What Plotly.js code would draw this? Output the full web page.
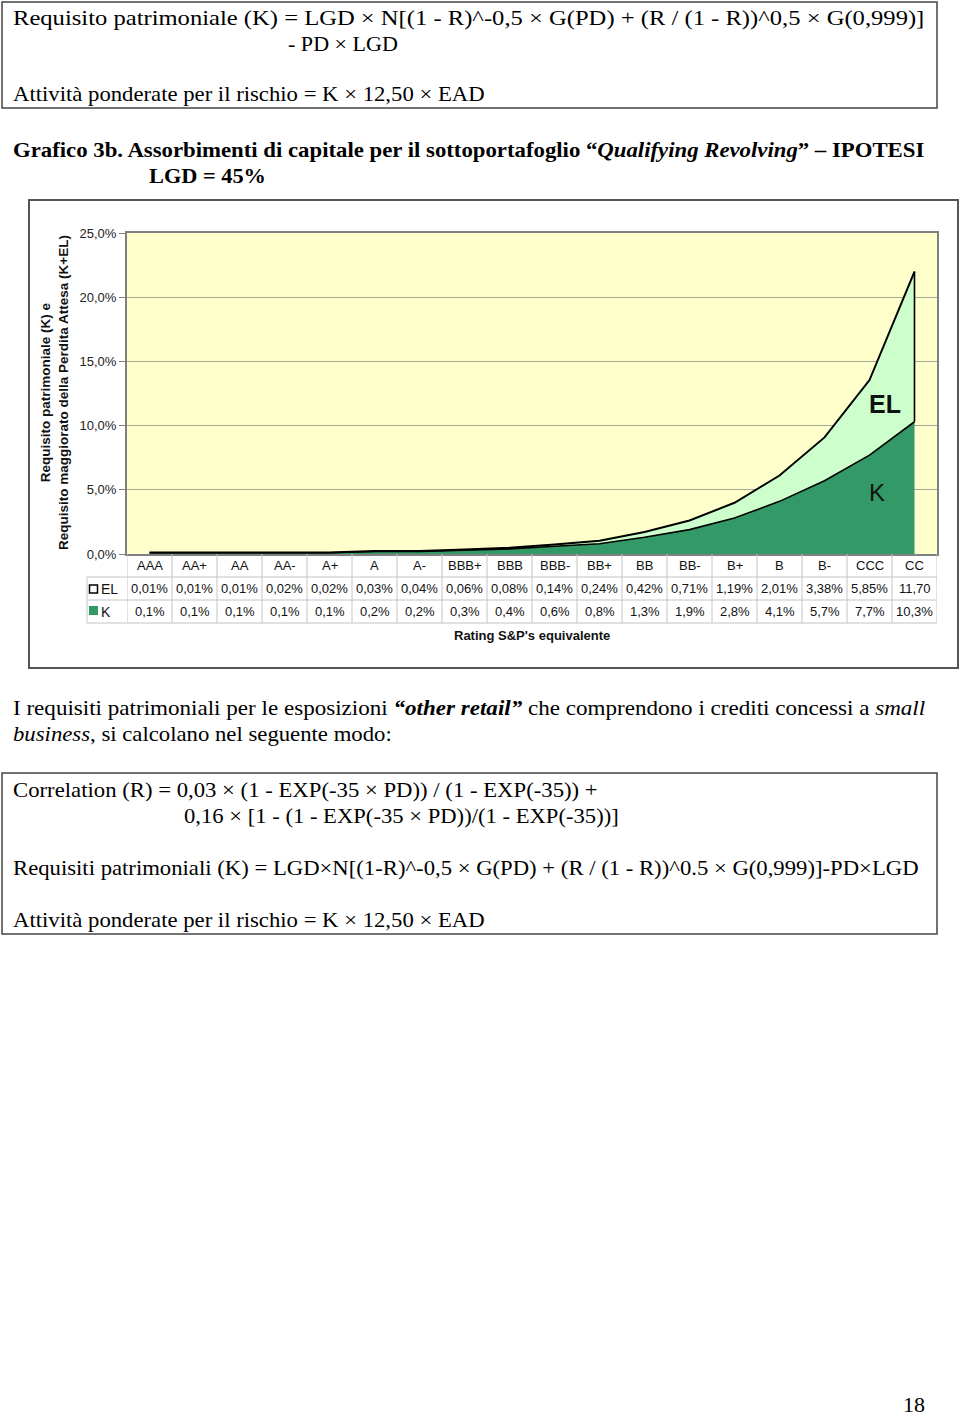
<!DOCTYPE html>
<html><head><meta charset="utf-8">
<script src="https://cdn.plot.ly/plotly-3.0.1.min.js"></script>
<style>
body{margin:0;background:#fff;width:960px;height:1418px;overflow:hidden;position:relative}
#chart{position:absolute;left:0;top:0;width:960px;height:1418px}
#doc{position:absolute;left:0;top:0;pointer-events:none}
#doc text{font-family:"Liberation Serif","Times New Roman",serif;font-size:21px;fill:#000}
</style></head><body>
<div id="chart"></div>
<svg id="doc" width="960" height="1418" xmlns="http://www.w3.org/2000/svg">
  <rect x="2" y="2" width="935" height="106" fill="none" stroke="#444" stroke-width="1.5"/>
  <text x="13" y="25" data-x1="925">Requisito patrimoniale (K) = LGD × N[(1 - R)^-0,5 × G(PD) + (R / (1 - R))^0,5 × G(0,999)]</text>
  <text x="288" y="51" data-x1="398">- PD × LGD</text>
  <text x="13" y="101" data-x1="485">Attività ponderate per il rischio = K × 12,50 × EAD</text>

  <text x="13" y="157" data-x1="925" font-weight="bold">Grafico 3b. Assorbimenti di capitale per il sottoportafoglio “<tspan font-style="italic">Qualifying Revolving</tspan>” – IPOTESI</text>
  <text x="149" y="183" data-x1="266" font-weight="bold">LGD = 45%</text>

  <text x="13" y="715" data-x1="926">I requisiti patrimoniali per le esposizioni <tspan font-weight="bold" font-style="italic">“other retail”</tspan> che comprendono i crediti concessi a <tspan font-style="italic">small</tspan></text>
  <text x="13" y="741" data-x1="392"><tspan font-style="italic">business</tspan>, si calcolano nel seguente modo:</text>

  <rect x="2" y="773" width="935" height="161" fill="none" stroke="#444" stroke-width="1.5"/>
  <text x="13" y="797" data-x1="598">Correlation (R) = 0,03 × (1 - EXP(-35 × PD)) / (1 - EXP(-35)) +</text>
  <text x="184" y="823" data-x1="619">0,16 × [1 - (1 - EXP(-35 × PD))/(1 - EXP(-35))]</text>
  <text x="13" y="875" data-x1="919">Requisiti patrimoniali (K) = LGD×N[(1-R)^-0,5 × G(PD) + (R / (1 - R))^0.5 × G(0,999)]-PD×LGD</text>
  <text x="13" y="927" data-x1="485">Attività ponderate per il rischio = K × 12,50 × EAD</text>

  <text x="903" y="1412" data-x1="925">18</text>
</svg>
<script>
// ---- data ----
const categories = ['AAA','AA+','AA','AA-','A+','A','A-','BBB+','BBB','BBB-','BB+','BB','BB-','B+','B','B-','CCC','CC'];
const elValues = [0.01,0.01,0.01,0.02,0.02,0.03,0.04,0.06,0.08,0.14,0.24,0.42,0.71,1.19,2.01,3.38,5.85,11.70];
const kValues  = [0.1,0.1,0.1,0.1,0.1,0.2,0.2,0.3,0.4,0.6,0.8,1.3,1.9,2.8,4.1,5.7,7.7,10.3];
const elLabels = ['0,01%','0,01%','0,01%','0,02%','0,02%','0,03%','0,04%','0,06%','0,08%','0,14%','0,24%','0,42%','0,71%','1,19%','2,01%','3,38%','5,85%','11,70'];
const kLabels  = ['0,1%','0,1%','0,1%','0,1%','0,1%','0,2%','0,2%','0,3%','0,4%','0,6%','0,8%','1,3%','1,9%','2,8%','4,1%','5,7%','7,7%','10,3%'];
const yTickVals = [0,5,10,15,20,25];
const yTickText = ['0,0%','5,0%','10,0%','15,0%','20,0%','25,0%'];
const seriesNames = ['K','EL'];
const axisTitle = '<b>Requisito patrimoniale (K) e<br>Requisito maggiorato della Perdita Attesa (K+EL)</b>';
const xTitle = "<b>Rating S&P's equivalente</b>";

// ---- layout helpers (page pixels -> paper) ----
const PL=127, PR=937, PT=233, PB=554;
const q = px => (px-PL)/(PR-PL);
const p = py => (PB-py)/(PB-PT);
const SANS = 'Liberation Sans, Arial, sans-serif';
const GREEN = '#339966', LIGHT = '#CCFFCC';

const last = categories.length-1;
const traces = [
  {x:categories, y:kValues, name:seriesNames[0], type:'scatter', mode:'lines', stackgroup:'s',
   fillcolor:GREEN, line:{color:'#000',width:1.6}, hoverinfo:'skip'},
  {x:categories, y:elValues, name:seriesNames[1], type:'scatter', mode:'lines', stackgroup:'s',
   fillcolor:LIGHT, line:{color:'#000',width:2}, hoverinfo:'skip'},
  {x:[categories[last],categories[last]], y:[kValues[last], kValues[last]+elValues[last]],
   type:'scatter', mode:'lines', line:{color:'#000',width:1.6}, hoverinfo:'skip'}
];

const grid = '#C4C4C4';
const shapes = [];
// chart frame
shapes.push({type:'rect', xref:'paper', yref:'paper', x0:q(29), x1:q(958), y0:p(668), y1:p(200),
  line:{color:'#555',width:2}, fillcolor:'rgba(0,0,0,0)'});
// table horizontal lines
[577,600,623].forEach(py=>shapes.push({type:'line', xref:'paper', yref:'paper', x0:q(87), x1:1, y0:p(py), y1:p(py), line:{color:grid,width:1}}));
// table vertical lines at category boundaries
for(let j=0;j<=categories.length;j++){
  shapes.push({type:'line', xref:'x', yref:'paper', x0:j-0.5, x1:j-0.5, y0:0, y1:p(623), line:{color:grid,width:1}});
}
shapes.push({type:'line', xref:'paper', yref:'paper', x0:q(87), x1:q(87), y0:p(577), y1:p(623), line:{color:grid,width:1}});
// legend swatches
shapes.push({type:'rect', xref:'paper', yref:'paper', x0:q(89.5), x1:q(97.5), y0:p(593), y1:p(585), fillcolor:'#fff', line:{color:'#000',width:1.5}});
shapes.push({type:'rect', xref:'paper', yref:'paper', x0:q(89), x1:q(98), y0:p(615), y1:p(606), fillcolor:GREEN, line:{color:GREEN,width:0}});

const annotations = [];
const tf = {family:SANS, size:13, color:'#111'};
categories.forEach((c,i)=>{
  annotations.push({xref:'x', yref:'paper', x:i, y:p(565.5), text:c, showarrow:false, font:tf, xanchor:'center', yanchor:'middle'});
  annotations.push({xref:'x', yref:'paper', x:i, y:p(588.5), text:elLabels[i], showarrow:false, font:tf, xanchor:'center', yanchor:'middle'});
  annotations.push({xref:'x', yref:'paper', x:i, y:p(611.5), text:kLabels[i], showarrow:false, font:tf, xanchor:'center', yanchor:'middle'});
});
annotations.push({xref:'paper', yref:'paper', x:q(99), y:p(589), text:seriesNames[1], showarrow:false, font:{family:SANS,size:14,color:'#111'}, xanchor:'left', yanchor:'middle'});
annotations.push({xref:'paper', yref:'paper', x:q(99), y:p(611.5), text:seriesNames[0], showarrow:false, font:{family:SANS,size:14,color:'#111'}, xanchor:'left', yanchor:'middle'});
annotations.push({xref:'paper', yref:'paper', x:q(532), y:p(635), text:xTitle, showarrow:false, font:{family:SANS,size:13,color:'#111'}, xanchor:'center', yanchor:'middle'});
annotations.push({xref:'paper', yref:'paper', x:q(54), y:p(393), text:axisTitle, textangle:-90, showarrow:false, font:{family:SANS,size:13.5,color:'#111'}, xanchor:'center', yanchor:'middle'});
annotations.push({xref:'paper', yref:'paper', x:q(885), y:p(404), text:'<b>EL</b>', showarrow:false, font:{family:SANS,size:25,color:'#111'}, xanchor:'center', yanchor:'middle'});
annotations.push({xref:'paper', yref:'paper', x:q(877), y:p(492), text:'K', showarrow:false, font:{family:SANS,size:24,color:'#111'}, xanchor:'center', yanchor:'middle'});

const layout = {
  width:960, height:1418,
  margin:{l:PL, r:960-PR, t:PT, b:1418-PB, pad:0},
  paper_bgcolor:'rgba(0,0,0,0)', plot_bgcolor:'#FFFFCC',
  separators:',.',
  showlegend:false,
  xaxis:{type:'category', categoryarray:categories, range:[-0.5,last+0.5], showticklabels:false, showgrid:false, zeroline:false,
         showline:true, mirror:true, linecolor:'#808080', linewidth:2, ticks:'', fixedrange:true},
  yaxis:{range:[0,25], tickmode:'array', tickvals:yTickVals, ticktext:yTickText, showgrid:true, gridcolor:'#A9A99A', gridwidth:1,
         showline:true, mirror:true, linecolor:'#808080', linewidth:2, ticks:'outside', ticklen:6, tickcolor:'#808080', tickwidth:1,
         tickfont:{family:SANS,size:13,color:'#222'}, zeroline:false, fixedrange:true},
  shapes:shapes, annotations:annotations
};
Plotly.newPlot('chart', traces, layout, {displayModeBar:false, staticPlot:true});

function fitText(){
  document.querySelectorAll('#doc text[data-x1]').forEach(t=>{
    const x0=+t.getAttribute('x'), x1=+t.getAttribute('data-x1');
    t.removeAttribute('transform');
    const w=t.getComputedTextLength();
    if(w>0){
      const s=(x1-x0)/w;
      t.setAttribute('transform',`translate(${x0} 0) scale(${s} 1) translate(${-x0} 0)`);
    }
  });
}
fitText();
if(document.fonts && document.fonts.ready) document.fonts.ready.then(fitText);
</script>
</body></html>
